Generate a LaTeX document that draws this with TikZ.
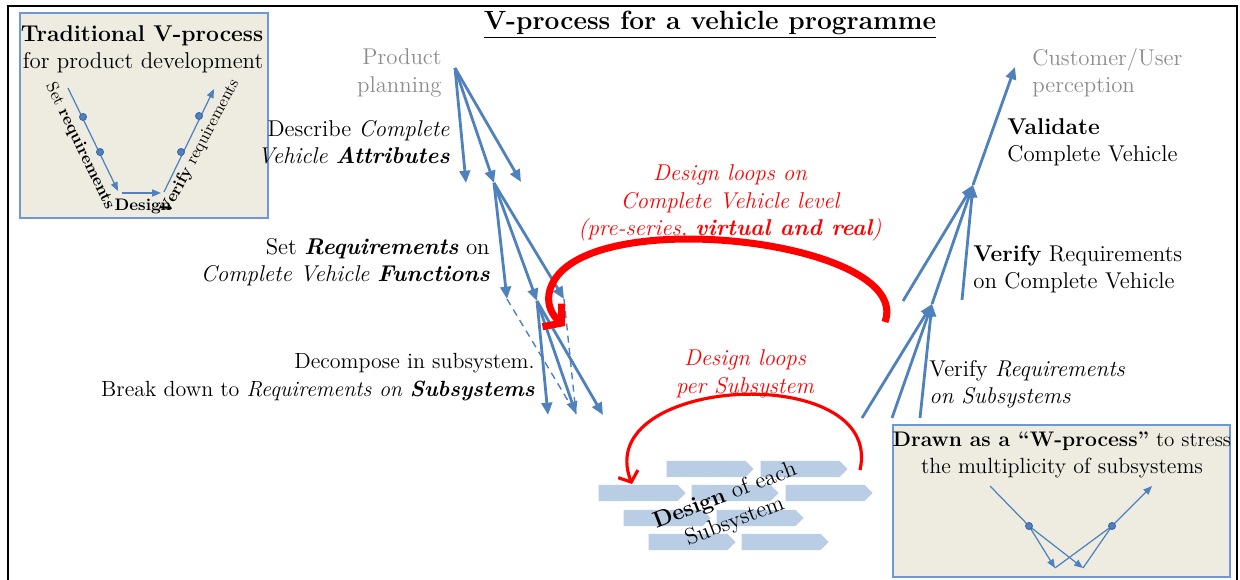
\documentclass[tikz,border=0pt]{standalone}
\usepackage{fontspec}
\usetikzlibrary{arrows.meta,shapes.symbols}
\definecolor{vblue}{HTML}{4F81BD}
\definecolor{vtan}{HTML}{EEECE1}
\definecolor{vframe}{HTML}{6F98CF}
\definecolor{vchev}{HTML}{B9CDE5}
\definecolor{vgray}{HTML}{8C8C8C}
\definecolor{vdot}{HTML}{3A68A6}
\tikzset{
  lbl/.style={font=\fontsize{13}{15.5}\selectfont, inner sep=0pt},
  small/.style={font=\fontsize{9.5}{11}\selectfont, inner sep=0pt},
  varrow/.style={vblue, line width=1.6pt, -{Triangle[length=7pt,width=6pt]}},
  vdash/.style={vblue, line width=0.8pt, dash pattern=on 4pt off 3pt},
  thinarrow/.style={vblue, line width=0.7pt, -{Triangle[length=5pt,width=4pt]}},
  vdotm/.style={vdot, fill=vblue, line width=0.5pt},
  loopbig/.style={red, line width=4pt, -{Straight Barb[length=7pt,width=17pt]}},
  loopsmall/.style={red, line width=1.8pt, -{Straight Barb[length=5pt,width=12pt]}},
  chev/.style={shape=signal, signal to=east, fill=vchev, minimum width=1.74cm,
    minimum height=0.33cm, inner sep=0pt}
}
\begin{document}
\begin{tikzpicture}[x=0.02cm,y=-0.02cm]
    \useasboundingbox (0,0) rectangle (1240,580);
    \draw[line width=1.2pt] (8,580) -- (8,6) -- (1237,6) -- (1237,580);
    \node[font=\fontsize{15}{18}\selectfont\bfseries] (title) at (710,25) {\underline{V-process for a vehicle programme}};

    % traditional V in the corner
    \draw[vframe, fill=vtan, line width=0.8pt] (20,13) rectangle (268,218);
    \node[lbl, font=\fontsize{13}{15.5}\selectfont\bfseries] (tvhead) at (142,36) {Traditional V-process};
    \node[lbl] (tvsub) at (143,63) {for product development};
    \coordinate (v0) at (68,88);
    \coordinate (v1) at (118,191);
    \coordinate (v2) at (122,193);
    \coordinate (v3) at (161,193);
    \coordinate (v4) at (164,192);
    \coordinate (v5) at (214,89);
    \draw[thinarrow] (v0) -- (v1);
    \draw[thinarrow] (v2) -- (v3);
    \draw[thinarrow] (v4) -- (v5);
    \draw[vdotm] (83,117) circle (3.5);
    \draw[vdotm] (100,152) circle (3.5);
    \draw[vdotm] (181,152) circle (3.5);
    \draw[vdotm] (199,116) circle (3.5);
    \node[small, rotate=-64] (tvset) at (80,146) {Set \textbf{requirements}};
    \node[small, font=\fontsize{9.5}{11}\selectfont\bfseries] (tvdes) at (143,206) {Design};
    \node[small, rotate=62] (tvver) at (200,147) {\textbf{Verify} requirements};

    % left leg
    \node[lbl, vgray, align=right, anchor=east] (plan) at (442,73) {Product\\planning};
    \node[lbl, align=right, anchor=east] (attr) at (450,142) {Describe \textit{Complete}\\\textit{Vehicle \textbf{Attributes}}};
    \node[lbl, align=right, anchor=east] (func) at (490,262) {Set \textit{\textbf{Requirements}} on\\\textit{Complete Vehicle \textbf{Functions}}};
    \node[lbl, align=right, anchor=east, font=\fontsize{12.5}{15.5}\selectfont] (decomp) at (535,377) {Decompose in subsystem.\\Break down to \textit{Requirements on \textbf{Subsystems}}};
    \coordinate (p0) at (455,68);
    \coordinate (a1) at (466,183);
    \coordinate (a2) at (494,183);
    \coordinate (a3) at (521,182);
    \coordinate (b1) at (507,299);
    \coordinate (b2) at (537,301);
    \coordinate (b3) at (564,299);
    \coordinate (s1) at (548,415);
    \coordinate (s2) at (576,414);
    \coordinate (s3) at (603,415);
    \draw[varrow] (p0) -- (a1);
    \draw[varrow] (p0) -- (a2);
    \draw[varrow] (p0) -- (a3);
    \draw[varrow] (a2) -- (b1);
    \draw[varrow] (a2) -- (b2);
    \draw[varrow] (a2) -- (b3);
    \draw[varrow] (b2) -- (s1);
    \draw[varrow] (b2) -- (s2);
    \draw[varrow] (b2) -- (s3);
    \draw[vdash] (b1) -- (s2);
    \draw[vdash] (b3) -- (s2);

    % right leg
    \node[lbl, vgray, align=left, anchor=west] (cust) at (1032,73) {Customer/User\\perception};
    \node[lbl, align=left, anchor=west] (valid) at (1007,142) {\textbf{Validate}\\Complete Vehicle};
    \node[lbl, align=left, anchor=west] (vercv) at (973,269) {\textbf{Verify} Requirements\\on Complete Vehicle};
    \node[lbl, align=left, anchor=west] (versub) at (929,384) {Verify \textit{Requirements}\\\textit{on Subsystems}};
    \coordinate (r0) at (1015,67);
    \coordinate (u0) at (973,185);
    \coordinate (u1) at (903,301);
    \coordinate (u2) at (932,304);
    \coordinate (u3) at (962,300);
    \coordinate (w1) at (862,418);
    \coordinate (w2) at (892,418);
    \coordinate (w3) at (920,418);
    \draw[varrow] (u0) -- (r0);
    \draw[varrow] (u1) -- (u0);
    \draw[varrow] (u2) -- (u0);
    \draw[varrow] (u3) -- (u0);
    \draw[varrow] (w1) -- (u2);
    \draw[varrow] (w2) -- (u2);
    \draw[varrow] (w3) -- (u2);

    % design loops
    \node[lbl, red, align=center, font=\fontsize{13}{15.5}\selectfont\itshape] (cvloop) at (730,203) {Design loops on\\Complete Vehicle level\\(pre-series, \textbf{virtual and real})};
    \draw[loopbig] (885,322) .. controls (915,238) and (565,200) .. (549,294) .. controls (547,306) and (553,316) .. (565,326);
    \node[lbl, red, align=center, font=\fontsize{13}{15.5}\selectfont\itshape] (ssloop) at (745,374) {Design loops\\per Subsystem};
    \draw[loopsmall] (860,470) .. controls (885,360) and (590,375) .. (632,484);

    % subsystem blocks
    \node[chev] (c1) at (706,469) {};
    \node[chev] (c2) at (800,469) {};
    \node[chev] (c3) at (638,493) {};
    \node[chev] (c4) at (731,493) {};
    \node[chev] (c5) at (825,493) {};
    \node[chev] (c6) at (663,518) {};
    \node[chev] (c7) at (756,518) {};
    \node[chev] (c8) at (688,542) {};
    \node[chev] (c9) at (781,542) {};
    \node[lbl, align=center, rotate=21] (dsgn) at (730,509) {\textbf{Design} of each\\Subsystem};

    % W-process box
    \draw[vframe, fill=vtan, line width=0.8pt] (893,425) rectangle (1230,577);
    \node[lbl, font=\fontsize{12}{15}\selectfont] (wtxt1) at (1062,441) {\textbf{Drawn as a ``W-process''} to stress};
    \node[lbl, font=\fontsize{12.5}{15}\selectfont] (wtxt2) at (1062,468) {the multiplicity of subsystems};
    \coordinate (m0) at (990,486);
    \coordinate (m1) at (1029,526);
    \coordinate (m2) at (1055,568);
    \coordinate (m3) at (1083,568);
    \coordinate (m4) at (1112,526);
    \coordinate (m5) at (1152,486);
    \draw[vblue, line width=0.7pt] (m0) -- (m1);
    \draw[thinarrow] (m1) -- (m2);
    \draw[thinarrow] (m1) -- (m3);
    \draw[vblue, line width=0.7pt] (m2) -- (m4);
    \draw[vblue, line width=0.7pt] (m3) -- (m4);
    \draw[thinarrow] (m4) -- (m5);
    \draw[vdotm] (m1) circle (3.5);
    \draw[vdotm] (m4) circle (3.5);
\end{tikzpicture}
\end{document}
